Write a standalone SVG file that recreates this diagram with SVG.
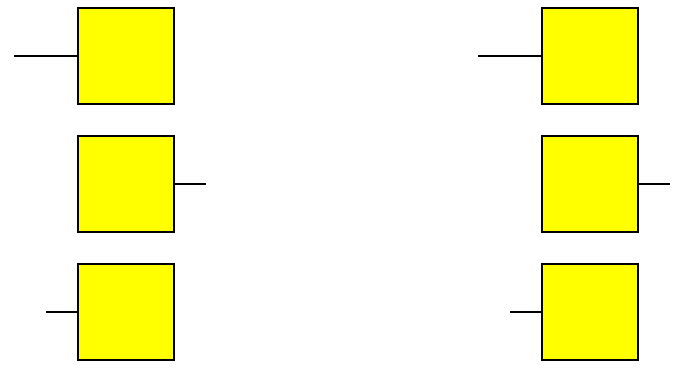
<svg xmlns="http://www.w3.org/2000/svg" width="683" height="369" viewBox="0 0 683 369">
<style>
.box{fill:#ffff00;stroke:#000;stroke-width:2}
.wire{stroke:#000;stroke-width:2;fill:none}
</style>
<rect width="683" height="369" fill="#fff"/>
<g id="connectors">
<line class="wire" x1="14" y1="56" x2="78" y2="56"/>
<line class="wire" x1="174" y1="184" x2="206" y2="184"/>
<line class="wire" x1="46" y1="312" x2="78" y2="312"/>
<line class="wire" x1="478" y1="56" x2="542" y2="56"/>
<line class="wire" x1="638" y1="184" x2="670" y2="184"/>
<line class="wire" x1="510" y1="312" x2="542" y2="312"/>
</g>
<g id="node-l1"><rect class="box" x="78" y="8" width="96" height="96"/></g>
<g id="node-l2"><rect class="box" x="78" y="136" width="96" height="96"/></g>
<g id="node-l3"><rect class="box" x="78" y="264" width="96" height="96"/></g>
<g id="node-r1"><rect class="box" x="542" y="8" width="96" height="96"/></g>
<g id="node-r2"><rect class="box" x="542" y="136" width="96" height="96"/></g>
<g id="node-r3"><rect class="box" x="542" y="264" width="96" height="96"/></g>
</svg>
